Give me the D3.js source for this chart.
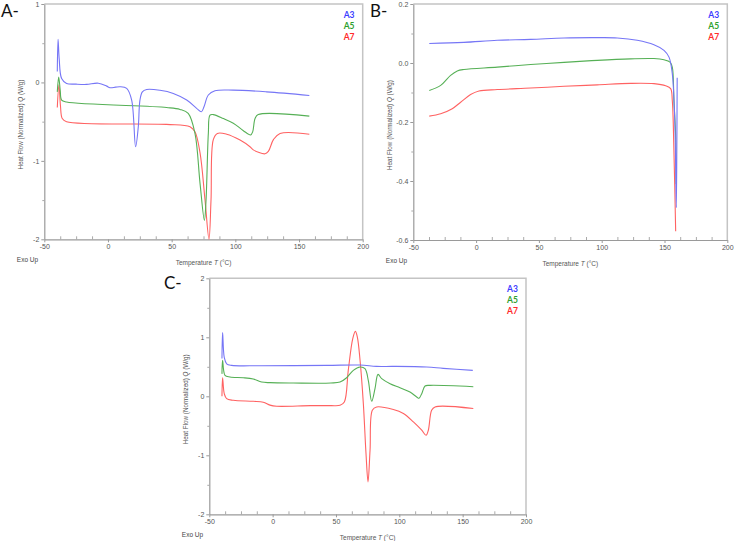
<!DOCTYPE html>
<html>
<head>
<meta charset="utf-8">
<script src="https://cdn.jsdelivr.net/npm/d3@7"></script>
<style>
  body { margin: 0; background: #fff; }
  text { font-family: "Liberation Sans", Arial, sans-serif; }
</style>
</head>
<body>
<svg width="734" height="541"></svg>
<script>
// series as [temperature °C, heat flow W/g]
var aA3 = [[-39.8,0.14],[-39.2,0.55],[-38.3,0.3],[-36.4,0.05],[-32.5,-0.013],[-25,-0.022],[-16.8,-0.025],[-7.6,-0.01],[-1,-0.047],[1.6,-0.068],[6,-0.06],[9.4,-0.055],[14.7,-0.076],[18.6,-0.225],[21.7,-0.82],[23.8,-0.565],[25.1,-0.225],[27,-0.12],[30.4,-0.09],[40.8,-0.1],[51.3,-0.14],[61.8,-0.225],[69.6,-0.33],[73.3,-0.374],[75.4,-0.31],[78.8,-0.16],[84,-0.106],[98.4,-0.098],[124.6,-0.12],[158.1,-0.166]];
var aA5 = [[-39.8,-0.12],[-38.7,0.07],[-37.5,-0.1],[-36.4,-0.225],[-32.5,-0.25],[46,-0.32],[56.6,-0.344],[63,-0.395],[68.3,-0.65],[72.3,-1.29],[75.7,-1.76],[77,-1.5],[78.8,-0.65],[80.1,-0.416],[82.7,-0.41],[90.6,-0.46],[98.4,-0.52],[106.3,-0.615],[112,-0.67],[113.6,-0.63],[115.5,-0.46],[118,-0.41],[158.1,-0.43]];
var aA7 = [[-39.8,-0.32],[-38.5,-0.03],[-37.3,-0.3],[-35.9,-0.46],[-32.5,-0.5],[46,-0.535],[64.4,-0.565],[68.3,-0.63],[72.3,-0.9],[76.2,-1.5],[79.3,-2.0],[80.9,-1.5],[82.7,-0.73],[85.9,-0.65],[93.2,-0.66],[103.7,-0.735],[111.5,-0.82],[114.1,-0.86],[123.3,-0.91],[125.9,-0.88],[129.9,-0.73],[135.1,-0.65],[158.1,-0.66]];

var bA3 = [[-37.3,0.066],[-9.7,0.07],[16.9,0.077],[43.4,0.08],[70,0.085],[96.5,0.086],[112.4,0.085],[128.3,0.077],[141.6,0.062],[149.6,0.043],[153.6,0.02],[156.2,-0.036],[158.1,-0.184],[158.9,-0.35],[159.4,-0.49],[159.8,-0.3],[160.1,-0.05]];
var bA5 = [[-37.3,-0.093],[-28.2,-0.076],[-20.3,-0.042],[-15,-0.027],[-9.7,-0.022],[16.9,-0.014],[43.4,-0.005],[70,0.002],[96.5,0.009],[123,0.014],[141.6,0.015],[149.6,0.011],[154.4,0.003],[156.2,-0.014],[157.5,-0.127],[158.9,-0.25],[159.3,-0.41]];
var bA7 = [[-37.3,-0.18],[-28.2,-0.172],[-19,-0.155],[-12.3,-0.133],[-4.4,-0.107],[2.3,-0.095],[16.9,-0.09],[43.4,-0.085],[70,-0.079],[96.5,-0.074],[123,-0.069],[141.6,-0.07],[150.9,-0.077],[154.9,-0.087],[156.2,-0.127],[157.5,-0.297],[158.9,-0.57]];

var cA3 = [[-40,0.64],[-39.5,1.08],[-38.2,0.66],[-36.3,0.55],[-32.4,0.524],[-10,0.518],[42.6,0.524],[69,0.53],[82,0.507],[95.3,0.507],[121.6,0.496],[134.7,0.473],[158,0.44]];
var cA5 = [[-40,0.38],[-39.5,0.61],[-37.6,0.355],[-33.7,0.327],[-23.2,0.315],[-15.3,0.293],[-8.7,0.242],[-2.1,0.231],[16.3,0.225],[46,0.225],[53.2,0.242],[58.4,0.315],[63.7,0.44],[69,0.496],[72.9,0.468],[75.5,0.27],[78.2,-0.085],[80.8,0.13],[83.2,0.372],[86.1,0.3],[92.7,0.214],[100.5,0.146],[108.4,0.073],[113.7,-0.011],[115.5,-0.034],[117.7,0.045],[120.3,0.175],[124.2,0.186],[158.4,0.163]];
var cA7 = [[-40,0],[-39.5,0.315],[-38.2,0.045],[-36.3,-0.04],[-31,-0.068],[-15.3,-0.085],[-7.4,-0.1],[-2.1,-0.15],[3.2,-0.169],[30,-0.158],[46,-0.158],[53.2,-0.152],[56.6,-0.096],[59.7,0.44],[63.2,0.975],[65.3,1.1],[66.9,1.0],[69,0.61],[71.6,-0.124],[73.7,-0.97],[75.3,-1.45],[76.9,-0.91],[78.7,-0.237],[82.1,-0.18],[95.3,-0.225],[103.2,-0.293],[111.1,-0.434],[117.7,-0.575],[121.1,-0.66],[122.9,-0.575],[125.5,-0.237],[128.2,-0.18],[158.4,-0.208]];

var seriesNames = ['A3', 'A5', 'A7'];
var xTicks = [-50, 0, 50, 100, 150, 200];
var yTicksA = [-2, -1, 0, 1];
var yLabelsA = ['-2', '-1', '0', '1'];
var yTicksB = [-0.6, -0.4, -0.2, 0, 0.2];
var yLabelsB = ['-0.6', '-0.4', '-0.2', '0.0', '0.2'];
var yTicksC = [-2, -1, 0, 1, 2];
var yLabelsC = ['-2', '-1', '0', '1', '2'];

var lineColors = ['#7676f6', '#56b056', '#ff6262'];
var textColors = ['#3c3cff', '#2f9f2f', '#ff2a2a'];

var svg = d3.select('svg');
svg.append('rect').attr('width', 734).attr('height', 541).attr('fill', '#fff');

function panel(cfg) {
  var x = d3.scaleLinear().domain([-50, 200]).range([cfg.left, cfg.right]);
  var y = d3.scaleLinear().domain(cfg.yDomain).range([cfg.bottom, cfg.top]);
  var g = svg.append('g');

  // frame top/right
  g.append('path')
    .attr('d', 'M' + cfg.left + ',' + cfg.top + 'H' + cfg.right + 'V' + cfg.bottom)
    .attr('fill', 'none').attr('stroke', '#c4c4c4').attr('stroke-width', 1.5);

  // minor ticks
  var xMinor = d3.range(-50, 200.1, 12.5).filter(function (d) { return d % 50 !== 0; });
  g.append('g').attr('transform', 'translate(0,' + cfg.bottom + ')')
    .call(d3.axisBottom(x).tickValues(xMinor).tickSize(-3).tickFormat(''))
    .call(function (s) { s.select('.domain').remove(); s.selectAll('line').attr('stroke', '#aaa'); });
  var ys = cfg.yTicks;
  var yMinor = [];
  for (var i = 0; i < ys.length - 1; i++) yMinor.push((ys[i] + ys[i + 1]) / 2);
  g.append('g').attr('transform', 'translate(' + cfg.left + ',0)')
    .call(d3.axisLeft(y).tickValues(yMinor).tickSize(2).tickFormat(''))
    .call(function (s) { s.select('.domain').remove(); s.selectAll('line').attr('stroke', '#aaa'); });

  // major axes
  var xa = g.append('g').attr('transform', 'translate(0,' + cfg.bottom + ')')
    .call(d3.axisBottom(x).tickValues(xTicks).tickSize(3).tickSizeOuter(0).tickPadding(2)
      .tickFormat(function (d) { return String(d).replace('\u2212', '-'); }));
  var ya = g.append('g').attr('transform', 'translate(' + cfg.left + ',0)')
    .call(d3.axisLeft(y).tickValues(cfg.yTicks).tickSize(3).tickSizeOuter(0).tickPadding(2)
      .tickFormat(function (d, i) { return cfg.yLabels[i]; }));
  [xa, ya].forEach(function (a) {
    a.select('.domain').attr('stroke', '#9a9a9a').attr('stroke-width', 1.2);
    a.selectAll('line').attr('stroke', '#9a9a9a');
    a.selectAll('text').attr('fill', '#555').style('font-size', '7px');
  });

  // curves
  var line = d3.line()
    .x(function (d) { return x(d[0]); })
    .y(function (d) { return y(d[1]); })
    .curve(d3.curveCatmullRom.alpha(0.5));
  var order = [2, 1, 0];
  order.forEach(function (k) {
    g.append('path').datum(cfg.series[k])
      .attr('d', line).attr('fill', 'none')
      .attr('stroke', lineColors[k]).attr('stroke-width', 1.1)
      .attr('stroke-linejoin', 'round');
  });

  // legend
  seriesNames.forEach(function (n, k) {
    g.append('text').attr('x', cfg.right - 19).attr('y', cfg.top + 13.5 + k * 11.3)
      .attr('fill', textColors[k]).style('font-size', '8.5px').style('font-weight', 'bold')
      .style('font-family', 'Lato, sans-serif').text(n);
  });

  // axis titles
  var yt = g.append('text')
    .attr('transform', 'translate(' + (cfg.left - 21) + ',' + ((cfg.top + cfg.bottom) / 2 + 3) + ') rotate(-90)')
    .attr('text-anchor', 'middle').attr('fill', '#555').style('font-size', '6.3px');
  yt.append('tspan').text('Heat Flow (Normalized) ');
  yt.append('tspan').style('font-style', 'italic').text('Q');
  yt.append('tspan').text(' (W/g)');

  var xt = g.append('text')
    .attr('x', (cfg.left + cfg.right) / 2).attr('y', cfg.bottom + 25.5)
    .attr('text-anchor', 'middle').attr('fill', '#555').style('font-size', '6.5px');
  xt.append('tspan').text('Temperature ');
  xt.append('tspan').style('font-style', 'italic').text('T');
  xt.append('tspan').text(' (\u00b0C)');

  g.append('text').attr('x', cfg.left - 27.5).attr('y', cfg.bottom + 23)
    .attr('fill', '#444').style('font-size', '6.5px').text('Exo Up');

  g.append('text').attr('x', cfg.tagX).attr('y', cfg.tagY)
    .style('font-family', 'Lato, sans-serif').style('font-size', '17px').attr('fill', '#111')
    .text(cfg.tag);
}

panel({ left: 44.3, right: 362.7, top: 4, bottom: 239.3, yDomain: [-2, 1],
  yTicks: yTicksA, yLabels: yLabelsA, series: [aA3, aA5, aA7], tag: 'A-', tagX: 1, tagY: 17 });
panel({ left: 413.3, right: 727.3, top: 4, bottom: 240, yDomain: [-0.6, 0.2],
  yTicks: yTicksB, yLabels: yLabelsB, series: [bA3, bA5, bA7], tag: 'B-', tagX: 370, tagY: 17 });
panel({ left: 209.3, right: 526, top: 278.3, bottom: 514.3, yDomain: [-2, 2],
  yTicks: yTicksC, yLabels: yLabelsC, series: [cA3, cA5, cA7], tag: 'C-', tagX: 164, tagY: 289 });
</script>
</body>
</html>
